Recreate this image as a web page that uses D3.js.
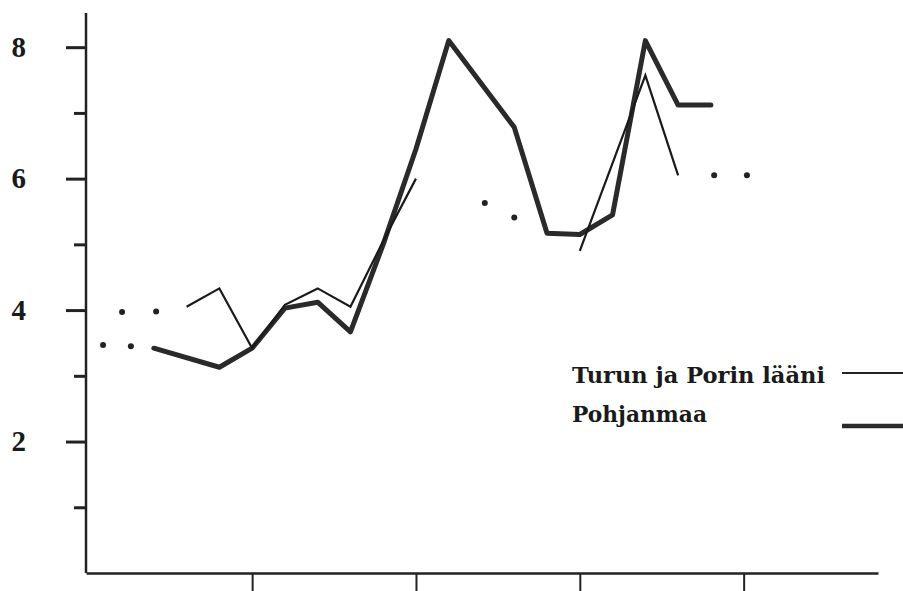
<!DOCTYPE html>
<html>
<head>
<meta charset="utf-8">
<script src="https://cdn.jsdelivr.net/npm/d3@7"></script>
<style>
  body { margin: 0; background: #fff; }
  svg { display: block; }
</style>
</head>
<body>
<script>
// year index (0 = axis origin), value
const pohjYears = [2, 4, 5, 6, 7, 8, 9, 10, 11, 13, 14, 15, 16, 17, 18, 19];
const pohjValues = [3.42, 3.13, 3.42, 4.03, 4.12, 3.67, 5.0, 6.45, 8.1, 6.78, 5.17, 5.15, 5.45, 8.1, 7.12, 7.12];

// Turun ja Porin lääni, two solid pieces
const turkuYearsA = [3, 4, 5, 6, 7, 8, 9, 10];
const turkuValuesA = [4.05, 4.33, 3.42, 4.08, 4.33, 4.05, 5.05, 6.0];
const turkuYearsB = [15, 17, 18];
const turkuValuesB = [4.9, 7.57, 6.05];

// loose dots
const dotYears = [0.45, 1.3, 1.03, 2.07, 12.1, 13.0, 19.1, 20.1];
const dotValues = [3.47, 3.45, 3.97, 3.98, 5.63, 5.41, 6.05, 6.05];

const yMajorTicks = [2, 4, 6, 8];
const yMinorTicks = [1, 3, 5, 7];
const xTicks = [5, 10, 15, 20];
const legendNames = ["Turun ja Porin lääni", "Pohjanmaa"];

const w = 903;
const h = 591;
const ink = "#222";

const svg = d3.select("body").append("svg").attr("width", w).attr("height", h);

const xScale = d3.scaleLinear().domain([-0.07, 24.1]).range([86, 878]);
const yScale = d3.scaleLinear().domain([0, 8.52]).range([573, 13]);

const zip = (xs, ys) => xs.map((x, i) => [x, ys[i]]);
const line = d3.line().x((d) => xScale(d[0])).y((d) => yScale(d[1]));

// axes
const yMajor = d3.axisLeft(yScale).tickValues(yMajorTicks).tickSize(20).tickPadding(40).tickSizeOuter(0);
const gy = svg.append("g").attr("transform", "translate(86,0)").call(yMajor);
gy.select(".domain").remove();
gy.selectAll(".tick line").attr("stroke", ink).attr("stroke-width", 3);
gy.selectAll(".tick text")
  .attr("fill", "#1a1a1a")
  .style("font-family", "'Liberation Serif', 'Times New Roman', serif")
  .style("font-weight", "bold")
  .style("font-size", "29px");

const yMinor = d3.axisLeft(yScale).tickValues(yMinorTicks).tickSize(12).tickFormat("").tickSizeOuter(0);
const gy2 = svg.append("g").attr("transform", "translate(86,0)").call(yMinor);
gy2.select(".domain").remove();
gy2.selectAll(".tick line").attr("stroke", ink).attr("stroke-width", 3);

svg.append("line")
  .attr("x1", 86).attr("x2", 86)
  .attr("y1", 13).attr("y2", yScale(0))
  .attr("stroke", ink).attr("stroke-width", 2.5);

const xAxis = d3.axisBottom(xScale).tickValues(xTicks).tickSize(20).tickFormat("").tickSizeOuter(0);
const gx = svg.append("g").attr("transform", "translate(0," + yScale(0) + ")").call(xAxis);
gx.select(".domain").attr("stroke", ink).attr("stroke-width", 2.5);
gx.selectAll(".tick line").attr("stroke", ink).attr("stroke-width", 2);

// series
svg.append("path")
  .datum(zip(pohjYears, pohjValues))
  .attr("d", line)
  .attr("fill", "none")
  .attr("stroke", "#2a2a2a")
  .attr("stroke-width", 5)
  .attr("stroke-linejoin", "round")
  .attr("stroke-linecap", "round");

[zip(turkuYearsA, turkuValuesA), zip(turkuYearsB, turkuValuesB)].forEach((seg) => {
  svg.append("path")
    .datum(seg)
    .attr("d", line)
    .attr("fill", "none")
    .attr("stroke", "#1a1a1a")
    .attr("stroke-width", 2.2)
    .attr("stroke-linejoin", "miter");
});

svg.selectAll("circle.dot")
  .data(zip(dotYears, dotValues))
  .enter()
  .append("circle")
  .attr("class", "dot")
  .attr("cx", (d) => xScale(d[0]))
  .attr("cy", (d) => yScale(d[1]))
  .attr("r", 3)
  .attr("fill", ink);

// legend
const legend = svg.append("g")
  .style("font-family", "'DejaVu Serif', serif")
  .style("font-weight", "bold")
  .style("font-size", "23px")
  .attr("fill", "#1a1a1a");

legend.append("text").attr("x", 572).attr("y", 383)
  .attr("textLength", 253).attr("lengthAdjust", "spacingAndGlyphs")
  .text(legendNames[0]);
legend.append("text").attr("x", 572).attr("y", 422)
  .attr("textLength", 135).attr("lengthAdjust", "spacingAndGlyphs")
  .text(legendNames[1]);

svg.append("line").attr("x1", 842).attr("x2", 903).attr("y1", 373).attr("y2", 373)
  .attr("stroke", ink).attr("stroke-width", 2);
svg.append("line").attr("x1", 842).attr("x2", 903).attr("y1", 426).attr("y2", 426)
  .attr("stroke", "#2a2a2a").attr("stroke-width", 4.5);
</script>
</body>
</html>
